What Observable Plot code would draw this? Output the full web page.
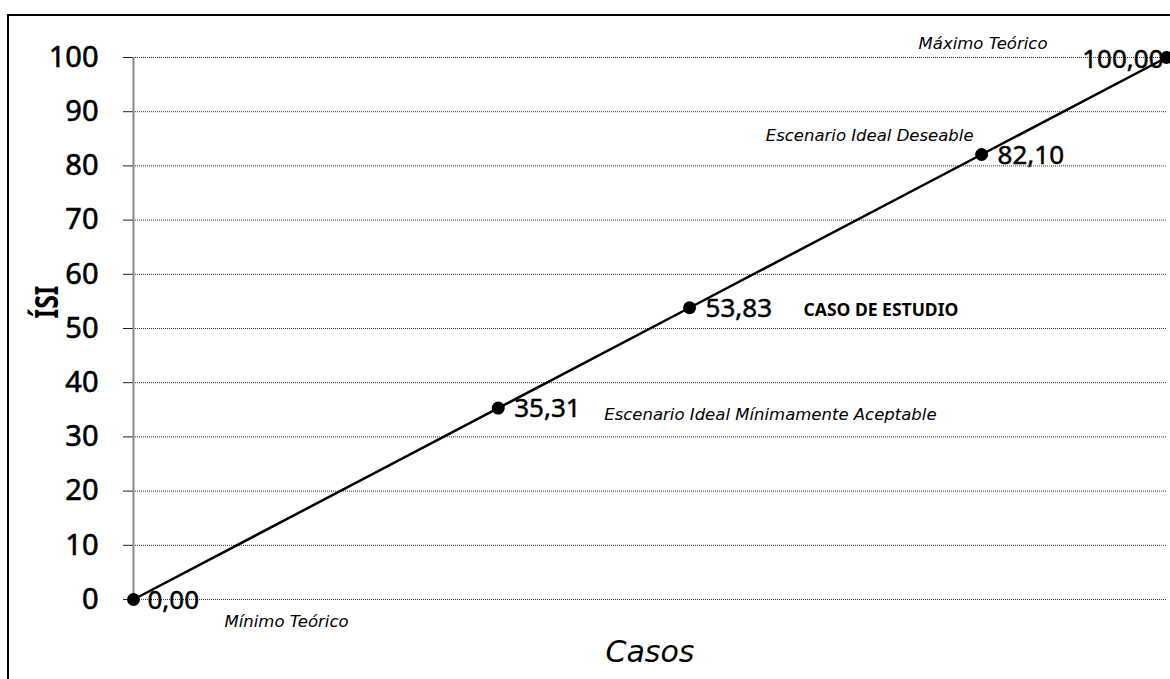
<!DOCTYPE html>
<html>
<head>
<meta charset="utf-8">
<script src="https://cdn.jsdelivr.net/npm/d3@7"></script>
<script src="https://cdn.jsdelivr.net/npm/@observablehq/plot@0.6"></script>
<style>
  html, body { margin: 0; padding: 0; background: #fff; width: 1170px; height: 679px; overflow: hidden; }
  #wrap { position: relative; width: 1170px; height: 679px; }
  #frame { position: absolute; left: 7px; top: 14px; width: 1300px; height: 900px; border: 2.5px solid #000; box-sizing: border-box; }
  #chart { position: absolute; left: 0; top: 0; }
  #chart g[aria-label="y-axis tick label"] text { stroke: #000; stroke-width: 0.6px; }
</style>
</head>
<body>
<div id="wrap"><div id="frame"></div><div id="chart"></div></div>
<script>
// Data
const casos = [0, 35.31, 53.83, 82.10, 100];
const isi = [0, 35.31, 53.83, 82.10, 100];
const notas = ["Mínimo Teórico", "Escenario Ideal Mínimamente Aceptable", "CASO DE ESTUDIO", "Escenario Ideal Deseable", "Máximo Teórico"];
const yTicks = [0, 10, 20, 30, 40, 50, 60, 70, 80, 90, 100];
const yLabel = "ÍSI";
const xLabel = "Casos";

const data = casos.map((c, i) => ({caso: c, isi: isi[i], nota: notas[i], i}));
const fmt = v => v.toFixed(2).replace(".", ",");

const numFont = "Noto Sans, sans-serif";
const itFont = "DejaVu Sans, sans-serif";

const sel = idx => data.filter(d => idx.includes(d.i));
const valStyle = {fontSize: 26, fill: "#000", stroke: "#000", strokeWidth: 0.5};
const noteStyle = {fontSize: 16.5, fontStyle: "italic", fontFamily: itFont, fill: "#000"};

const chart = Plot.plot({
  width: 1170,
  height: 679,
  marginLeft: 133,
  marginTop: 57,
  marginBottom: 80,
  marginRight: 4,
  style: {fontFamily: numFont, background: "transparent", overflow: "visible"},
  x: {domain: [0, 100], axis: null},
  y: {domain: [0, 100]},
  marks: [
    Plot.gridY(yTicks, {stroke: "#333", strokeOpacity: 1, strokeWidth: 1, strokeDasharray: "1,1"}),
    Plot.axisY(yTicks, {tickSize: 10, tickPadding: 25, label: null, fontSize: 29, stroke: "#222", tickFormat: d => d}),
    Plot.ruleX([0], {stroke: "#888", strokeWidth: 2}),
    Plot.line(data, {x: "caso", y: "isi", stroke: "#000", strokeWidth: 2.5}),
    Plot.dot(data, {x: "caso", y: "isi", r: 6.5, fill: "#000", stroke: "none"}),
    // value labels
    Plot.text(sel([0]), {x: "caso", y: "isi", text: d => fmt(d.isi), textAnchor: "start", dx: 14, dy: 1, ...valStyle}),
    Plot.text(sel([1, 2, 3]), {x: "caso", y: "isi", text: d => fmt(d.isi), textAnchor: "start", dx: 16, dy: 1, ...valStyle}),
    Plot.text(sel([4]), {x: "caso", y: "isi", text: d => fmt(d.isi), textAnchor: "end", dx: -3, dy: 2, ...valStyle}),
    // notes
    Plot.text(sel([0]), {x: "caso", y: "isi", text: "nota", textAnchor: "start", dx: 91, dy: 22, ...noteStyle}),
    Plot.text(sel([1]), {x: "caso", y: "isi", text: "nota", textAnchor: "start", dx: 106, dy: 7, ...noteStyle}),
    Plot.text(sel([2]), {x: "caso", y: "isi", text: "nota", textAnchor: "start", dx: 114, dy: 3, fontSize: 17.5, fontWeight: "bold", fontFamily: numFont, fill: "#000"}),
    Plot.text(sel([3]), {x: "caso", y: "isi", text: "nota", textAnchor: "end", dx: -8, dy: -19, ...noteStyle}),
    Plot.text(sel([4]), {x: "caso", y: "isi", text: "nota", textAnchor: "end", dx: -119, dy: -14, ...noteStyle}),
    // axis titles
    Plot.text([yLabel], {frameAnchor: "left", text: d => d, rotate: -90, dx: -86, dy: -10, fontSize: 33, fontWeight: "bold", fontFamily: numFont, fill: "#000"}),
    Plot.text([xLabel], {frameAnchor: "bottom", text: d => d, dy: 62, fontSize: 30, fontStyle: "italic", fontFamily: itFont, fill: "#000"})
  ]
});
document.getElementById("chart").appendChild(chart);
// compress the rotated axis title to the reference's narrow width
chart.querySelectorAll("text").forEach(t => {
  if (t.textContent === yLabel) { t.setAttribute("textLength", "33"); t.setAttribute("lengthAdjust", "spacingAndGlyphs"); }
});
</script>
</body>
</html>
